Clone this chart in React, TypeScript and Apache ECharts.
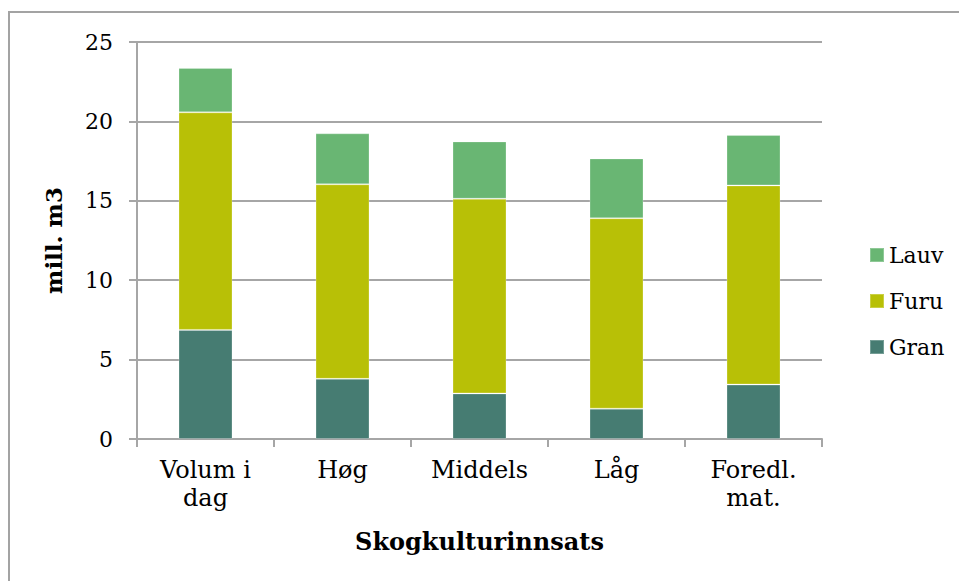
import React, { useEffect, useRef } from "react";
import * as echarts from "echarts";

const categories = ["Volum i\ndag", "Høg", "Middels", "Låg", "Foredl.\nmat."];
const gran = [6.87, 3.79, 2.87, 1.91, 3.43];
const furu = [13.7, 12.25, 12.26, 11.99, 12.54];
const lauv = [2.8, 3.21, 3.61, 3.77, 3.17];
const yTicks = [0, 5, 10, 15, 20, 25];

const FONT = "DejaVu Serif";

export default function App() {
  const ref = useRef<HTMLDivElement>(null);
  useEffect(() => {
    document.body.style.margin = "0";
    const chart = echarts.init(ref.current!, null, { renderer: "svg" });
    const barStyle = (color: string) => ({
      color,
      borderColor: "rgba(255,255,255,0.25)",
      borderWidth: 1,
    });
    chart.setOption({
      animation: false,
      backgroundColor: "#ffffff",
      textStyle: { fontFamily: FONT },
      graphic: [
        {
          type: "rect",
          shape: { x: 9, y: 12, width: 1000, height: 1000 },
          style: { fill: "none", stroke: "#a3a3a3", lineWidth: 2 },
          silent: true,
        },
      ],
      grid: { left: 137, right: 137, top: 42, bottom: 142 },
      legend: {
        data: ["Lauv", "Furu", "Gran"],
        orient: "vertical",
        left: 864,
        top: 239,
        itemWidth: 14,
        itemHeight: 14,
        itemGap: 24,
        icon: "rect",
        textStyle: { fontFamily: FONT, fontSize: 22, color: "#000" },
      },
      xAxis: {
        type: "category",
        data: categories,
        name: "Skogkulturinnsats",
        nameLocation: "middle",
        nameGap: 90,
        nameTextStyle: { fontFamily: FONT, fontSize: 24, fontWeight: "bold", color: "#000" },
        axisLine: { lineStyle: { color: "#a6a6a6", width: 2 } },
        axisTick: { show: true, length: 8, lineStyle: { color: "#a6a6a6", width: 2 } },
        axisLabel: {
          fontFamily: FONT,
          fontSize: 24,
          color: "#000",
          margin: 17,
          lineHeight: 28,
          interval: 0,
        },
      },
      yAxis: {
        type: "value",
        min: 0,
        max: 25,
        interval: 5,
        name: "mill. m3",
        nameLocation: "middle",
        nameGap: 72,
        nameTextStyle: { fontFamily: FONT, fontSize: 23, fontWeight: "bold", color: "#000" },
        axisLine: { show: true, lineStyle: { color: "#a6a6a6", width: 2 } },
        axisTick: { show: true, length: 8, lineStyle: { color: "#a6a6a6", width: 2 } },
        splitLine: { lineStyle: { color: "#a6a6a6", width: 2 } },
        axisLabel: {
          fontFamily: FONT,
          fontSize: 22,
          color: "#000",
          margin: 24,
          formatter: (v: number) => (yTicks.includes(v) ? String(v) : ""),
        },
      },
      series: [
        { name: "Gran", type: "bar", stack: "t", data: gran, barWidth: 54, itemStyle: barStyle("#467c72") },
        { name: "Furu", type: "bar", stack: "t", data: furu, barWidth: 54, itemStyle: barStyle("#b8c006") },
        { name: "Lauv", type: "bar", stack: "t", data: lauv, barWidth: 54, itemStyle: barStyle("#69b673") },
      ],
    });
    return () => chart.dispose();
  }, []);
  return (
    <div
      ref={ref}
      style={{ position: "absolute", left: 0, top: 0, width: 959, height: 581 }}
    />
  );
}
